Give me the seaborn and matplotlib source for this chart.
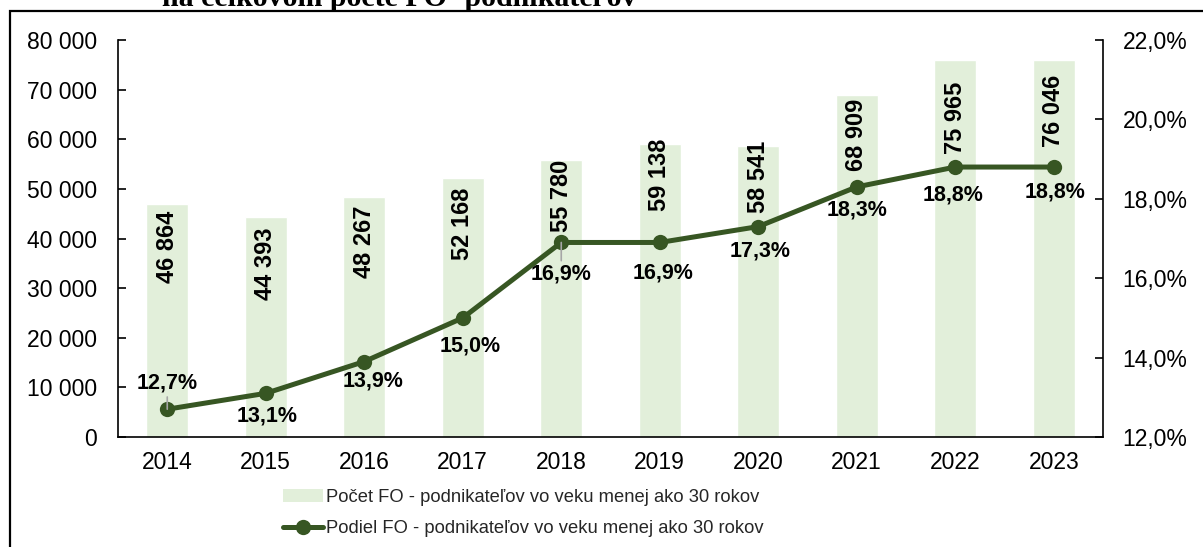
import matplotlib
matplotlib.use("Agg")
import matplotlib.pyplot as plt
import seaborn as sns
import numpy as np
import pandas as pd
from matplotlib.patches import Patch, Rectangle
from matplotlib.lines import Line2D
from matplotlib.ticker import FuncFormatter, MultipleLocator

# ---- data ----
years = ["2014", "2015", "2016", "2017", "2018", "2019", "2020", "2021", "2022", "2023"]
counts = [46864, 44393, 48267, 52168, 55780, 59138, 58541, 68909, 75965, 76046]
shares = [12.7, 13.1, 13.9, 15.0, 16.9, 16.9, 17.3, 18.3, 18.8, 18.8]
count_labels = ["46 864", "44 393", "48 267", "52 168", "55 780",
                "59 138", "58 541", "68 909", "75 965", "76 046"]
share_labels = ["12,7%", "13,1%", "13,9%", "15,0%", "16,9%",
                "16,9%", "17,3%", "18,3%", "18,8%", "18,8%"]
title_text = "na celkovom počte FO- podnikateľov"
legend_labels = ["Počet FO - podnikateľov vo veku menej ako 30 rokov",
                 "Podiel FO - podnikateľov vo veku menej ako 30 rokov"]

# ---- label placement (styling, pixels) ----
bar_label_drop = [6, 11, 8, 10, 0, -5, -6, 4, 22, 15]
share_label_off = [(0, 26), (1, -23), (9, -19), (7, -28), (0, -32),
                   (3, -31), (2, -24), (0, -23), (-2, -28), (1, -25)]
leader = [True, False, False, False, True, False, False, False, False, False]

BAR_COLOR = "#E2EFDA"
LINE_COLOR = "#375623"

sns.set_theme(style="white")
plt.rcParams['font.family'] = ['Liberation Sans', 'DejaVu Sans']

W, H = 1203, 547
fig = plt.figure(figsize=(W / 100, H / 100), dpi=100)
ax = fig.add_axes([118 / W, 1 - 437 / H, (1103 - 118) / W, (437 - 40) / H])

df = pd.DataFrame({"year": years, "count": counts, "share": shares})
sns.barplot(data=df, x="year", y="count", color=BAR_COLOR, saturation=1,
            width=0.43, ax=ax)
ax.set_ylim(0, 80000)
ax.yaxis.set_major_locator(MultipleLocator(10000))
ax.yaxis.set_major_formatter(FuncFormatter(lambda v, p: f"{int(v):,}".replace(",", " ")))
ax.set_xlabel("")
ax.set_ylabel("")
ax.set_xlim(-0.5, len(years) - 0.5)

ax2 = ax.twinx()
sns.lineplot(data=df, x="year", y="share", color=LINE_COLOR, linewidth=3.6,
             marker="o", markersize=11, markeredgewidth=0, ax=ax2, sort=False)
ax2.set_ylim(12, 22)
ax2.yaxis.set_major_locator(MultipleLocator(2))
ax2.yaxis.set_major_formatter(FuncFormatter(lambda v, p: f"{v:.1f}%".replace(".", ",")))
ax2.set_ylabel("")
ax2.set_xlabel("")

# spines
for s in ["top", "right"]:
    ax.spines[s].set_visible(False)
for s in ["top", "left", "bottom"]:
    ax2.spines[s].set_visible(False)
for a, s in [(ax, "left"), (ax, "bottom"), (ax2, "right")]:
    a.spines[s].set_color("black")
    a.spines[s].set_linewidth(1.2)

ax.tick_params(axis="y", direction="in", length=6, width=1.2, color="black",
               labelsize=16.5, pad=15, labelcolor="black", left=True)
ax.tick_params(axis="x", length=0, labelsize=16.5, pad=10, labelcolor="black")
ax2.tick_params(axis="y", direction="in", length=6, width=1.2, color="black",
                labelsize=16.5, pad=14, labelcolor="black", right=True)

# bar labels
for i, (c, lbl) in enumerate(zip(counts, count_labels)):
    ax.annotate(lbl, xy=(i, c), xytext=(0, -bar_label_drop[i]),
                textcoords="offset pixels", rotation=90, ha="center", va="top",
                fontsize=17, fontweight="bold", color="black")

# share labels
for i, (s, lbl) in enumerate(zip(shares, share_labels)):
    kw = {}
    if leader[i]:
        kw["arrowprops"] = dict(arrowstyle="-", color="#A6A6A6", lw=1.2,
                                shrinkA=0, shrinkB=0)
    ax2.annotate(lbl, xy=(i, s), xytext=share_label_off[i],
                 textcoords="offset pixels", ha="center", va="center",
                 fontsize=15.5, fontweight="bold", color="black", zorder=5, **kw)

# legend
LEG_SIZE = 13.2
handles = [Patch(facecolor=BAR_COLOR, edgecolor="none"),
           Line2D([0], [0], color=LINE_COLOR, linewidth=3.6, marker="o",
                  markersize=11, markeredgewidth=0)]
fig.legend(handles, legend_labels, loc="center",
           bbox_to_anchor=(523 / W, 1 - 513 / H), frameon=False, fontsize=LEG_SIZE,
           handlelength=40 / (LEG_SIZE * 100 / 72), handletextpad=0.15,
           labelspacing=0.8, borderaxespad=0)

# title (cut off at top, as in the source) and chart frame
fig.text(162 / W, 1 - 6 / H, title_text, ha="left", va="baseline",
         fontsize=21.5, fontweight="bold", family="Liberation Serif", color="black")
fig.patches.append(Rectangle((10 / W, -0.1), 1.2, (1 - 11 / H) + 0.1,
                             transform=fig.transFigure, fill=False,
                             edgecolor="black", linewidth=1.6, clip_on=False))

fig.savefig("out.png", dpi=100)
